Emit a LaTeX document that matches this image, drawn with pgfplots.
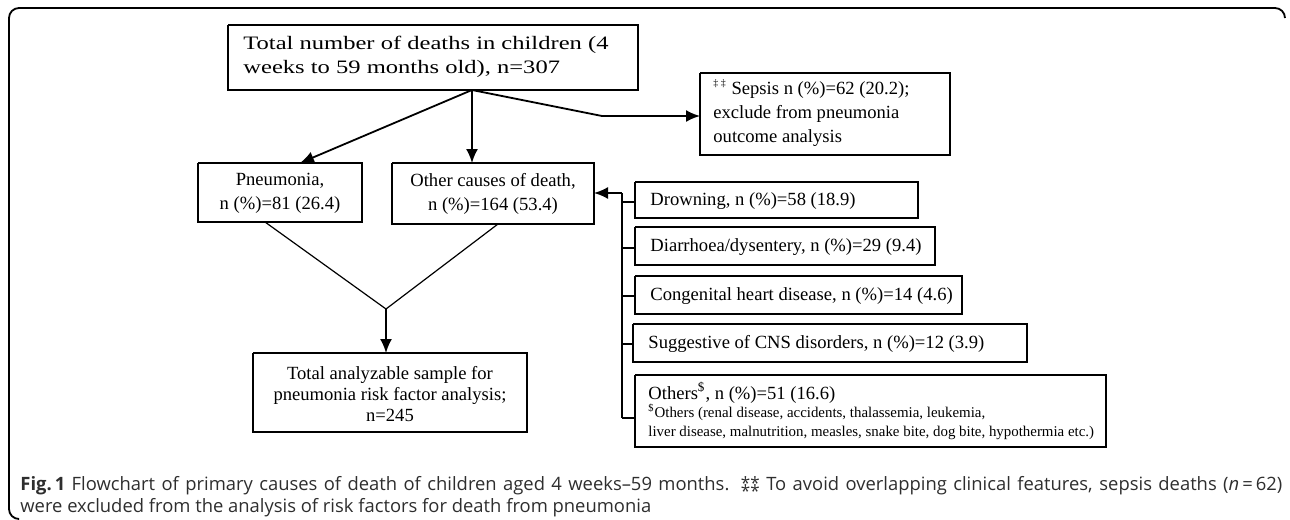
\documentclass[border=0pt]{standalone}
\usepackage{pgfplots}
\pgfplotsset{compat=1.18}
\usepackage{fontspec}
\setmainfont{Liberation Serif}
\newfontfamily\capfont{Open Sans}
\usetikzlibrary{arrows.meta}
\newcommand{\starstack}{\makebox[1.05em][c]{\rlap{\raisebox{0.05ex}{\fontsize{8.5}{8.5}\selectfont **}}\raisebox{-0.75ex}{\fontsize{8.5}{8.5}\selectfont **}}}
\begin{document}
\begin{tikzpicture}
\begin{axis}[
  scale only axis, width=645pt, height=259.5pt,
  xmin=0, xmax=1290, ymin=0, ymax=519, y dir=reverse,
  axis lines=none, clip=false,
  cycle list={{black,solid,mark=none}},
  every axis plot/.append style={line width=0.6pt},
]
\path (rel axis cs:0,0) (rel axis cs:1,1);
% outer frame
\draw[line width=0.9pt, rounded corners=5pt] (axis cs:18,519) -- (axis cs:9,519) -- (axis cs:9,8) -- (axis cs:1285,8) -- (axis cs:1285,18);
% boxes
\addplot coordinates {(228,25) (638,25) (638,90) (228,90) (228,25)};
\addplot coordinates {(700,73) (950,73) (950,155) (700,155) (700,73)};
\addplot coordinates {(198,163) (362,163) (362,222) (198,222) (198,163)};
\addplot coordinates {(392,163) (594,163) (594,224) (392,224) (392,163)};
\addplot coordinates {(253,353) (527,353) (527,432) (253,432) (253,353)};
\addplot coordinates {(635,182) (918,182) (918,218) (635,218) (635,182)};
\addplot coordinates {(635,227) (935,227) (935,265) (635,265) (635,227)};
\addplot coordinates {(635,276) (962,276) (962,314) (635,314) (635,276)};
\addplot coordinates {(633,324) (1027,324) (1027,362) (633,362) (633,324)};
\addplot coordinates {(635,375) (1106,375) (1106,447) (635,447) (635,375)};
% connectors
\addplot[line width=0.9pt, -{Latex[length=7pt,width=6pt]}] coordinates {(472,90) (300,163)};
\addplot[line width=0.9pt, -{Latex[length=7pt,width=6pt]}] coordinates {(472,90) (472,163)};
\addplot[line width=0.9pt, -{Latex[length=7pt,width=6pt]}] coordinates {(472,90) (602,116) (700,116)};
\addplot[line width=0.9pt, -{Latex[length=7pt,width=6pt]}] coordinates {(622,193) (594,193)};
\addplot[line width=0.9pt] coordinates {(622,193) (622,418)};
\addplot[line width=0.9pt] coordinates {(622,202) (635,202)};
\addplot[line width=0.9pt] coordinates {(622,248) (635,248)};
\addplot[line width=0.9pt] coordinates {(622,296) (635,296)};
\addplot[line width=0.9pt] coordinates {(622,344) (633,344)};
\addplot[line width=0.9pt] coordinates {(622,418) (635,418)};
\addplot[line width=0.6pt] coordinates {(265,222) (386,309) (498,224)};
\addplot[line width=0.9pt, -{Latex[length=7pt,width=6pt]}] coordinates {(386,309) (386,353)};
% texts
\begin{scope}[every node/.style={font=\fontsize{9.3}{12}\selectfont, inner sep=0pt}]
\node[anchor=west, align=left] at (axis cs:243,57) {\scalebox{1.32}[1.02]{Total number of deaths in children (4}\\[0.3pt]\scalebox{1.32}[1.02]{weeks to 59 months old), n=307}};
\node[anchor=west, align=left] at (axis cs:713,113) {\textsuperscript{\tiny‡ ‡} Sepsis n (\%)=62 (20.2);\\exclude from pneumonia\\outcome analysis};
\node[align=center] at (axis cs:280,193) {Pneumonia,\\n (\%)=81 (26.4)};
\node[align=center] at (axis cs:493,194) {Other causes of death,\\n (\%)=164 (53.4)};
\node[align=center, font=\fontsize{9.3}{10.6}\selectfont] at (axis cs:390,394) {Total analyzable sample for\\pneumonia risk factor analysis;\\n=245};
\node[anchor=west] at (axis cs:650,201) {Drowning, n (\%)=58 (18.9)};
\node[anchor=west] at (axis cs:650,247) {Diarrhoea/dysentery, n (\%)=29 (9.4)};
\node[anchor=west] at (axis cs:650,296) {Congenital heart disease, n (\%)=14 (4.6)};
\node[anchor=west] at (axis cs:648,344) {Suggestive of CNS disorders, n (\%)=12 (3.9)};
\node[anchor=west] at (axis cs:648,393) {Others\textsuperscript{\$}, n (\%)=51 (16.6)};
\node[anchor=north west, align=left, font=\fontsize{7.45}{9.5}\selectfont] at (axis cs:648,404) {\textsuperscript{\$}Others (renal disease, accidents, thalassemia, leukemia,\\liver disease, malnutrition, measles, snake bite, dog bite, hypothermia etc.)};
\end{scope}
% caption
\begin{scope}[every node/.style={font=\capfont\fontsize{9.2}{11}\selectfont, inner sep=0pt, text=black!82, anchor=west}]
\node at (axis cs:20,487) {\hbox to 631pt{\textbf{Fig.\,1} Flowchart of primary causes of death of children aged 4 weeks–59 months. \starstack{} To avoid overlapping clinical features, sepsis deaths (\textit{n}\,=\,62)}};
\node at (axis cs:20,508) {were excluded from the analysis of risk factors for death from pneumonia};
\end{scope}
\end{axis}
\end{tikzpicture}
\end{document}
